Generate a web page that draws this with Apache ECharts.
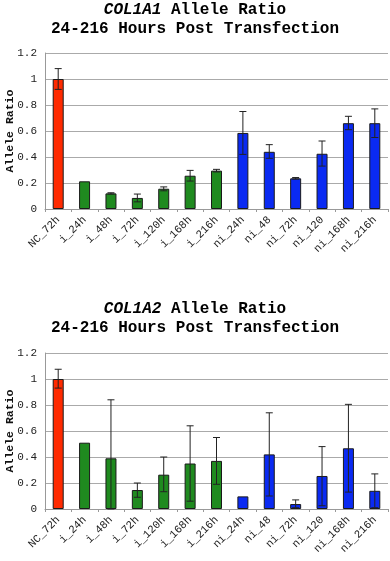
<!DOCTYPE html>
<html><head><meta charset="utf-8">
<script src="https://cdn.jsdelivr.net/npm/echarts@6/dist/echarts.min.js"></script>
<style>html,body{margin:0;padding:0;background:#fff}#c{width:390px;height:561px}</style>
</head><body><div id="c"></div>
<script>
const categories = ['NC_72h','i_24h','i_48h','i_72h','i_120h','i_168h','i_216h','ni_24h','ni_48','ni_72h','ni_120','ni_168h','ni_216h'];
const groups = ['nc','i','i','i','i','i','i','ni','ni','ni','ni','ni','ni'];
const yTicks = [0, 0.2, 0.4, 0.6, 0.8, 1, 1.2];

const a1Values = [1.0, 0.213, 0.12, 0.085, 0.156, 0.256, 0.295, 0.585, 0.44, 0.236, 0.425, 0.66, 0.66];
const a1Low    = [0.92, 0.213, 0.115, 0.055, 0.14, 0.215, 0.285, 0.42, 0.39, 0.23, 0.33, 0.61, 0.55];
const a1High   = [1.08, 0.213, 0.125, 0.115, 0.17, 0.297, 0.305, 0.75, 0.495, 0.242, 0.523, 0.713, 0.77];

const a2Values = [1.0, 0.51, 0.39, 0.146, 0.264, 0.35, 0.37, 0.097, 0.42, 0.038, 0.254, 0.467, 0.14];
const a2Low    = [0.93, 0.51, 0.0, 0.09, 0.133, 0.06, 0.19, 0.097, 0.10, 0.01, 0.025, 0.13, 0.01];
const a2High   = [1.075, 0.51, 0.84, 0.2, 0.40, 0.64, 0.55, 0.097, 0.74, 0.07, 0.48, 0.805, 0.27];

const colors = {nc: '#ff2a00', i: '#1f8a1f', ni: '#0a2af2'};
const mono = '"Liberation Mono", "Courier New", monospace';

function barData(vals){
  return vals.map((v,i)=>({value: v, itemStyle: {color: colors[groups[i]]}}));
}
function errData(lo, hi){
  return lo.map((l,i)=>[i, l, hi[i]]);
}
function renderErr(params, api){
  const x = api.value(0);
  const lo = api.coord([x, api.value(1)]);
  const hi = api.coord([x, api.value(2)]);
  if (Math.abs(lo[1]-hi[1]) < 0.5) return null;
  const w = 3.5;
  const st = {stroke: '#222', lineWidth: 1};
  return {type: 'group', children: [
    {type:'line', shape:{x1:hi[0], y1:hi[1], x2:lo[0], y2:lo[1]}, style: st},
    {type:'line', shape:{x1:hi[0]-w, y1:hi[1], x2:hi[0]+w, y2:hi[1]}, style: st},
    {type:'line', shape:{x1:lo[0]-w, y1:lo[1], x2:lo[0]+w, y2:lo[1]}, style: st}
  ]};
}
function mkX(idx){
  return {type:'category', gridIndex: idx, data: categories,
    axisLine:{lineStyle:{color:'#999'}},
    axisTick:{show:true, alignWithLabel:false, length:3, lineStyle:{color:'#999'}},
    axisLabel:{rotate:45, fontFamily: mono, fontSize: 11, color:'#222', margin:9, interval:0}};
}
function mkY(idx){
  return {type:'value', gridIndex: idx, min: yTicks[0], max: yTicks[yTicks.length-1], interval: 0.2,
    name:'Allele Ratio', nameLocation:'middle', nameGap: 29, nameMoveOverlap: false,
    nameTextStyle:{fontFamily: mono, fontWeight:'bold', fontSize: 11.5, color:'#111'},
    axisLine:{show:true, lineStyle:{color:'#999'}},
    axisTick:{show:false},
    splitLine:{lineStyle:{color:'#aaa'}},
    axisLabel:{fontFamily: mono, fontSize: 11, color:'#222', margin: 8}};
}
const titleRich = {
  i:{fontFamily: mono, fontSize: 16, fontWeight:'bold', fontStyle:'italic', color:'#000', lineHeight: 19},
  b:{fontFamily: mono, fontSize: 16, fontWeight:'bold', color:'#000', lineHeight: 19}
};
const chart = echarts.init(document.getElementById('c'));
chart.setOption({
  animation:false,
  backgroundColor:'#fff',
  title:[
    {text:'{i|COL1A1}{b| Allele Ratio}\n{b|24-216 Hours Post Transfection}', left:'center', top: 0, padding:0, textStyle:{rich: titleRich, align:'center'}},
    {text:'{i|COL1A2}{b| Allele Ratio}\n{b|24-216 Hours Post Transfection}', left:'center', top: 299, padding:0, textStyle:{rich: titleRich, align:'center'}}
  ],
  grid:[
    {left:45, top:53, width:343, height:156, outerBoundsMode:'none', containLabel:false},
    {left:45, top:353, width:343, height:156, outerBoundsMode:'none', containLabel:false}
  ],
  xAxis:[mkX(0), mkX(1)],
  yAxis:[mkY(0), mkY(1)],
  series:[
    {type:'bar', xAxisIndex:0, yAxisIndex:0, data: barData(a1Values), barWidth: 11,
      itemStyle:{borderColor:'#1a1a1a', borderWidth:1}},
    {type:'custom', xAxisIndex:0, yAxisIndex:0, data: errData(a1Low, a1High), renderItem: renderErr, z: 10},
    {type:'bar', xAxisIndex:1, yAxisIndex:1, data: barData(a2Values), barWidth: 11,
      itemStyle:{borderColor:'#1a1a1a', borderWidth:1}},
    {type:'custom', xAxisIndex:1, yAxisIndex:1, data: errData(a2Low, a2High), renderItem: renderErr, z: 10}
  ]
});
</script></body></html>
